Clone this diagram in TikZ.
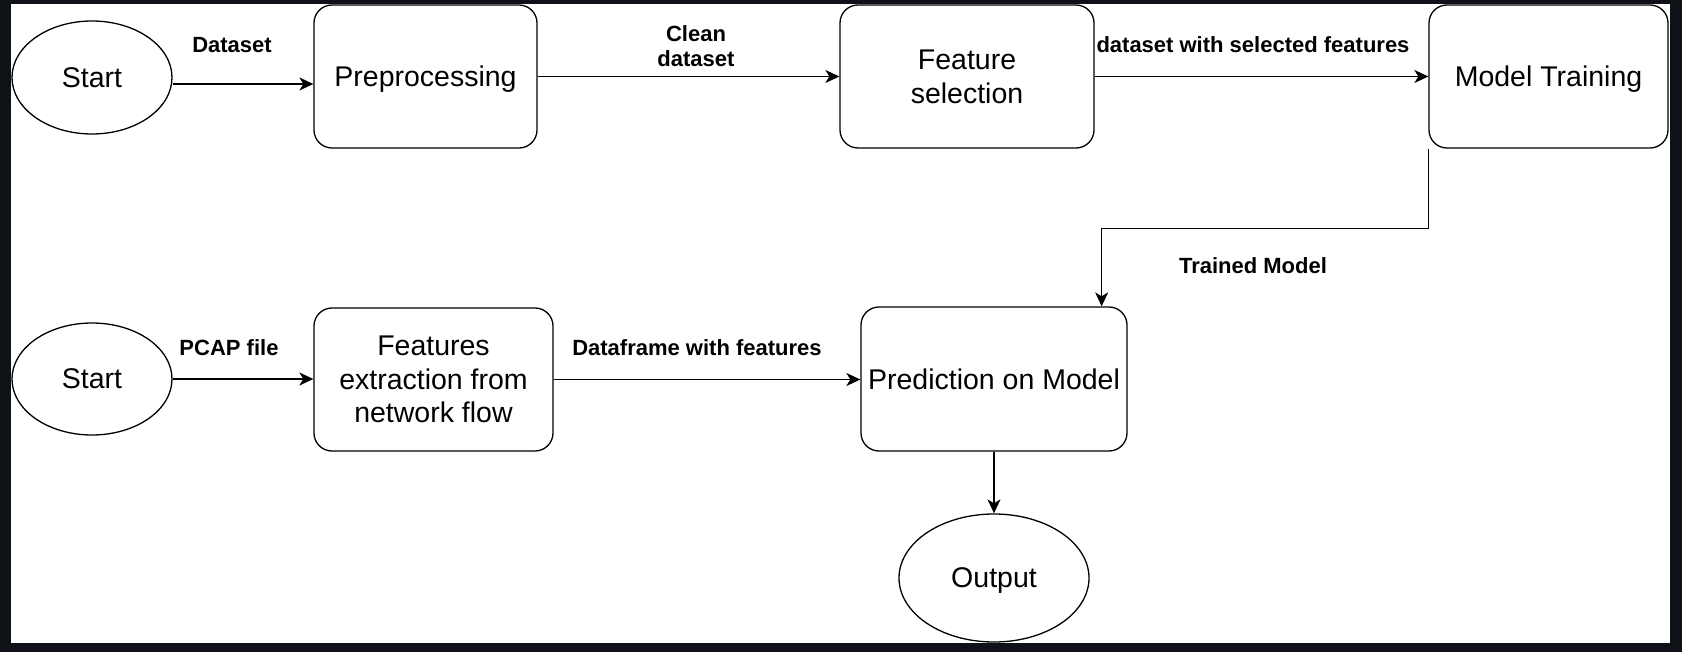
\documentclass[tikz,border=0pt]{standalone}
\usepackage{fontspec}
\setmainfont{Liberation Sans}
\usepackage{tikz}
\usetikzlibrary{arrows.meta,shapes.geometric}
\definecolor{framedark}{HTML}{0E1116}

\tikzset{
	stagebox/.style={draw, rounded corners=18pt, line width=1.3pt, inner sep=0pt, align=center, text depth=0pt, font=\fontsize{28.5}{33.5}\selectfont},
	endpoint/.style={draw, ellipse, line width=1.3pt, inner sep=0pt, text depth=0pt, font=\fontsize{28.5}{33.5}\selectfont},
	flowlabel/.style={inner sep=0pt, align=center, font=\bfseries\fontsize{22}{25}\selectfont},
	flow/.style={-{Stealth[length=14pt,width=13pt,inset=4pt]}, line width=1.3pt}
}

\begin{document}
\begin{tikzpicture}[x=1pt,y=-1pt]
% border
\fill[framedark] (0,0) rectangle (1682,652);
\fill[white] (11,4) rectangle (1670,643);

% training row
\node[endpoint, minimum width=160pt, minimum height=113pt] (start1) at (92,77.5) {Start};
\node[stagebox, minimum width=223pt, minimum height=143pt] (prep) at (425.5,76.5) {Preprocessing};
\node[stagebox, minimum width=254pt, minimum height=143pt] (fsel) at (967,76.5) {Feature\\selection};
\node[stagebox, minimum width=239pt, minimum height=143pt] (mtrain) at (1548.5,76.5) {Model Training};

% prediction row
\node[endpoint, minimum width=160pt, minimum height=112pt] (start2) at (92,379) {Start};
\node[stagebox, minimum width=239pt, minimum height=143pt] (fext) at (433.5,379.5) {Features\\extraction from\\network flow};
\node[stagebox, minimum width=266pt, minimum height=144pt] (pred) at (994,379) {Prediction on Model};
\node[endpoint, minimum width=190pt, minimum height=128pt] (out) at (994,578) {Output};

% arrows
\draw[flow] ([yshift=-6.5pt]start1.east) -- ([yshift=-6.5pt]start1.east -| prep.west);
\draw[flow] (prep) -- (fsel);
\draw[flow] (fsel) -- (mtrain);
\coordinate (tin) at ([xshift=-26pt]pred.north east);
\draw[flow] (mtrain.south west) -- ++(0,80) -| (tin);
\draw[flow] (start2.east) -- (start2.east -| fext.west);
\draw[flow] (fext.east) -- (fext.east -| pred.west);
\draw[flow] (pred) -- (out);

% labels
\node[flowlabel] (ldata) at (232,45) {Dataset};
\node[flowlabel] (lclean) at (696,46) {Clean\\dataset};
\node[flowlabel] (lsel) at (1253,45) {dataset with selected features};
\node[flowlabel] (ltrain) at (1253,266) {Trained Model};
\node[flowlabel] (lpcap) at (229,348) {PCAP file};
\node[flowlabel] (lframe) at (697,348) {Dataframe with features};
\end{tikzpicture}
\end{document}
